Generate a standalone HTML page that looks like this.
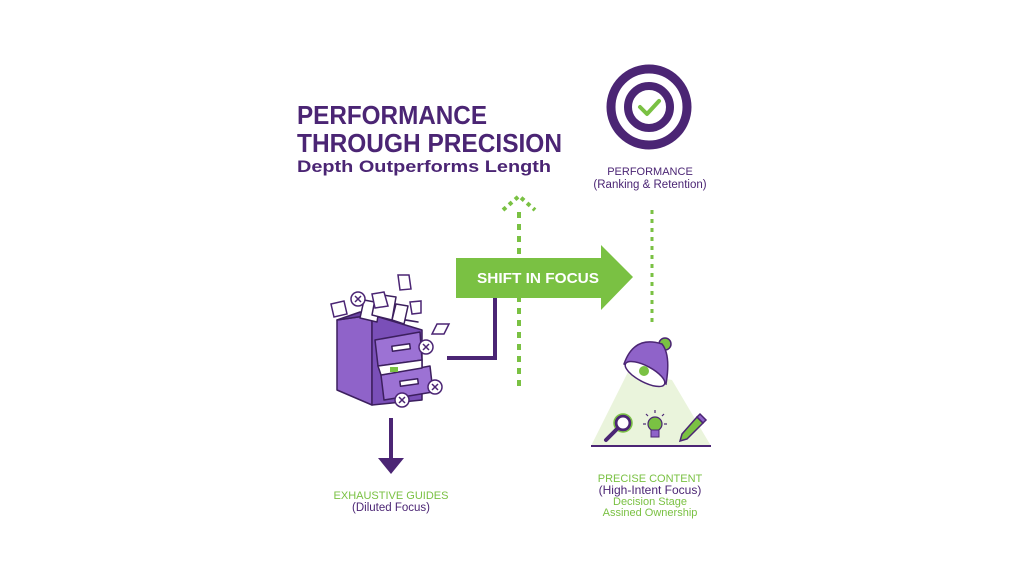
<!DOCTYPE html>
<html><head><meta charset="utf-8"><style>
html,body{margin:0;padding:0;background:#fff;}
svg{display:block;font-family:"Liberation Sans",sans-serif;}
</style></head><body>
<svg width="1024" height="576" viewBox="0 0 1024 576" xmlns="http://www.w3.org/2000/svg">
<rect width="1024" height="576" fill="#fff"/>
<!-- Title -->
<text x="297" y="124" font-size="26" font-weight="bold" fill="#4b2574" textLength="190" lengthAdjust="spacingAndGlyphs">PERFORMANCE</text>
<text x="297" y="152" font-size="26" font-weight="bold" fill="#4b2574" textLength="265" lengthAdjust="spacingAndGlyphs">THROUGH PRECISION</text>
<text x="297" y="172" font-size="17" font-weight="bold" fill="#4b2574" textLength="254" lengthAdjust="spacingAndGlyphs">Depth Outperforms Length</text>

<!-- Target -->
<circle cx="649" cy="107" r="38" fill="none" stroke="#4b2574" stroke-width="9"/>
<circle cx="649" cy="107" r="21" fill="none" stroke="#4b2574" stroke-width="8"/>
<path d="M640 107 L647 114 L659 101" fill="none" stroke="#7ac143" stroke-width="4" stroke-linecap="round" stroke-linejoin="round"/>
<text x="650" y="175" font-size="11" fill="#4b2574" text-anchor="middle">PERFORMANCE</text>
<text x="650" y="188" font-size="11.5" fill="#4b2574" text-anchor="middle">(Ranking &amp; Retention)</text>

<!-- dotted lines -->
<line x1="652" y1="210" x2="652" y2="322" stroke="#7ac143" stroke-width="3" stroke-dasharray="4 5"/>
<line x1="519" y1="212" x2="519" y2="390" stroke="#7ac143" stroke-width="4" stroke-dasharray="6 6"/>
<path d="M503 210 L519 196 L535 210" fill="none" stroke="#7ac143" stroke-width="4" stroke-dasharray="4 4"/>

<!-- purple connector -->
<path d="M447 358 L495 358 L495 298" fill="none" stroke="#4b2574" stroke-width="4"/>

<!-- Green arrow -->
<path d="M456 258 L601 258 L601 245 L633 277 L601 310 L601 298 L456 298 Z" fill="#7ac143"/>
<text x="538" y="283" font-size="15" font-weight="bold" fill="#fff" text-anchor="middle" textLength="122" lengthAdjust="spacingAndGlyphs">SHIFT IN FOCUS</text>

<!-- Cabinet -->
<g stroke="#3c1f5e" stroke-width="1.5" stroke-linejoin="round">
  <path d="M337 320 L372 315 L372 405 L337 390 Z" fill="#8f63c9"/>
  <path d="M372 315 L422 330 L422 400 L372 405 Z" fill="#7a4fb8"/>
  <path d="M337 320 L360 312 L418 322 L372 315 Z" fill="#6a43a3"/>
  <path d="M360 318 L364 300 L380 303 L377 322 Z" fill="#fff"/>
  <path d="M372 315 L376 294 L396 297 L392 320 Z" fill="#fff"/>
  <path d="M392 320 L396 304 L408 306 L404 324 Z" fill="#fff"/>
  <path d="M375 340 L420 332 L422 360 L378 366 Z" fill="#9c72d4"/>
  <rect x="392" y="345" width="18" height="5" fill="#fff" transform="rotate(-8 401 347)"/>
  <path d="M381 375 L430 366 L433 392 L384 400 Z" fill="#9c72d4"/>
  <rect x="400" y="380" width="18" height="5" fill="#fff" transform="rotate(-8 409 382)"/>
  <path d="M378 366 L422 360 L422 368 L381 375 Z" fill="#fff"/>
</g>
<rect x="390" y="367" width="8" height="5" fill="#7ac143"/>
<g fill="#fff" stroke="#4b2574" stroke-width="1.5">
  <path d="M331 304 L344 301 L347 314 L334 317 Z"/>
  <path d="M372 294 L384 292 L388 306 L375 308 Z"/>
  <path d="M398 275 L409 275 L411 289 L400 290 Z"/>
  <path d="M410 302 L421 301 L421 313 L412 314 Z"/>
  <path d="M437 324 L449 324 L444 334 L432 334 Z"/>
</g>
<g fill="#fff" stroke="#4b2574" stroke-width="1.5">
  <circle cx="358" cy="299" r="7"/><circle cx="426" cy="347" r="7"/><circle cx="435" cy="387" r="7"/><circle cx="402" cy="400" r="7"/>
</g>
<g stroke="#4b2574" stroke-width="1.5">
  <path d="M355 296 l6 6 M361 296 l-6 6"/>
  <path d="M423 344 l6 6 M429 344 l-6 6"/>
  <path d="M432 384 l6 6 M438 384 l-6 6"/>
  <path d="M399 397 l6 6 M405 397 l-6 6"/>
</g>

<!-- down arrow -->
<line x1="391" y1="418" x2="391" y2="460" stroke="#4b2574" stroke-width="4"/>
<path d="M378 458 L404 458 L391 474 Z" fill="#4b2574"/>
<text x="391" y="499" font-size="11" fill="#7ac143" text-anchor="middle">EXHAUSTIVE GUIDES</text>
<text x="391" y="511" font-size="11.5" fill="#4b2574" text-anchor="middle">(Diluted Focus)</text>

<!-- Lamp -->
<path d="M628 372 L672 380 L711 446 L591 446 Z" fill="#eaf4dc"/>
<line x1="591" y1="446" x2="711" y2="446" stroke="#4b2574" stroke-width="2"/>
<circle cx="665" cy="344" r="6" fill="#7ac143" stroke="#4b2574" stroke-width="1.5"/>
<path d="M624 364 Q634 335 662 344 Q671 355 666 384 Z" fill="#8f63c9" stroke="#4b2574" stroke-width="1.5"/>
<ellipse cx="645" cy="374" rx="22" ry="8" transform="rotate(28 645 374)" fill="#fff" stroke="#4b2574" stroke-width="1.5"/>
<circle cx="644" cy="371" r="5" fill="#7ac143"/>
<circle cx="623" cy="423" r="7" fill="#fff" stroke="#4b2574" stroke-width="3"/>
<circle cx="623" cy="423" r="9" fill="none" stroke="#7ac143" stroke-width="1.5"/>
<line x1="617" y1="429" x2="606" y2="440" stroke="#4b2574" stroke-width="4" stroke-linecap="round"/>
<circle cx="655" cy="424" r="7" fill="#7ac143" stroke="#4b2574" stroke-width="1.2"/>
<rect x="651" y="430" width="8" height="7" fill="#8f63c9" stroke="#4b2574" stroke-width="1"/>
<g stroke="#4b2574" stroke-width="1.2"><line x1="655" y1="410" x2="655" y2="413"/><line x1="643" y1="424" x2="646" y2="424"/><line x1="664" y1="424" x2="667" y2="424"/><line x1="646" y1="414" x2="648" y2="416"/><line x1="664" y1="414" x2="662" y2="416"/></g>
<path d="M697 417 L703 423 L687 439 L680 441 L682 434 Z" fill="#7ac143" stroke="#4b2574" stroke-width="1.5"/>
<path d="M697 417 L700 414 L706 420 L703 423 Z" fill="#8f63c9" stroke="#4b2574" stroke-width="1.5"/>

<text x="650" y="482" font-size="11" fill="#7ac143" text-anchor="middle">PRECISE CONTENT</text>
<text x="650" y="494" font-size="12" fill="#4b2574" text-anchor="middle">(High-Intent Focus)</text>
<text x="650" y="505" font-size="11" fill="#7ac143" text-anchor="middle">Decision Stage</text>
<text x="650" y="516" font-size="11" fill="#7ac143" text-anchor="middle">Assined Ownership</text>
</svg>
</body></html>
